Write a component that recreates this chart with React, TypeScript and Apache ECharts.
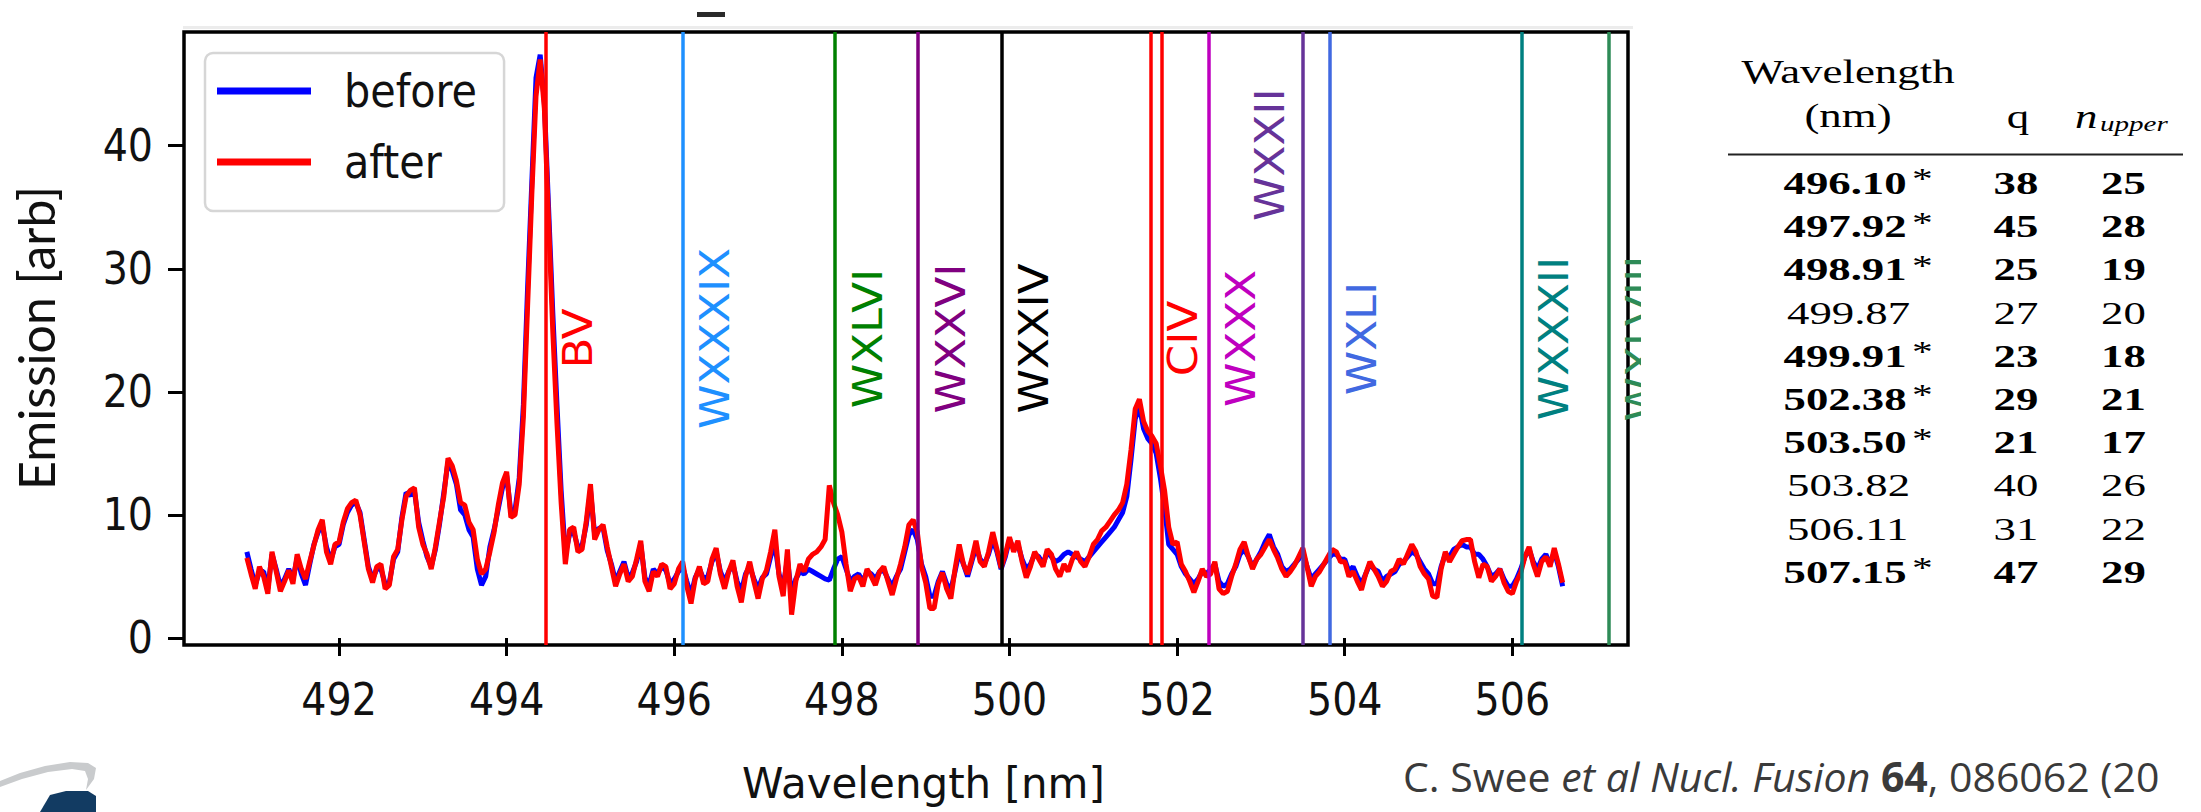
import React, { useEffect, useRef } from "react";
import * as echarts from "echarts";

const WL_START = 490.9;
const WL_STEP = 0.05;

const AFTER = [
  6.5, 5.2, 4.0, 5.8, 5.0, 3.6, 7.0, 5.4, 3.8, 4.6, 5.5, 4.4, 6.8, 5.6, 4.8, 6.2, 7.5, 8.8, 9.6, 7.0,
  6.0, 7.6, 7.8, 9.4, 10.5, 11.0, 11.2, 10.0, 7.8, 5.6, 4.5, 5.8, 6.0, 4.0, 4.3, 6.6, 7.2, 9.6, 11.5, 12.0,
  12.2, 9.0, 7.6, 6.8, 5.6, 7.4, 9.5, 11.5, 14.6, 14.0, 12.8, 11.0, 10.8, 9.4, 8.8, 6.4, 5.2, 5.6, 7.0, 8.6,
  10.8, 12.6, 13.5, 9.8, 10.0, 12.5, 18.0, 27.0, 36.0, 44.0, 47.0, 43.0, 34.0, 25.0, 17.5, 11.0, 6.0, 8.8, 9.0, 7.0,
  7.2, 9.5, 12.5, 8.0, 8.8, 9.2, 7.4, 5.8, 4.2, 5.2, 6.0, 4.6, 5.0, 6.4, 7.9, 4.6, 3.8, 5.4, 5.0, 6.0,
  5.8, 4.0, 4.4, 5.6, 6.2, 4.2, 2.8, 4.8, 5.8, 4.4, 4.6, 6.4, 7.3, 5.2, 4.0, 5.4, 6.3, 4.2, 2.9, 5.0,
  6.2, 4.6, 3.2, 4.8, 5.5, 7.0, 8.8, 5.0, 3.4, 7.2, 1.9, 4.6, 6.0, 5.4, 6.4, 6.8, 7.0, 7.4, 8.0, 12.4,
  11.0, 10.0, 8.6, 6.0, 3.8, 4.8, 5.0, 4.2, 5.6, 5.0, 4.3, 5.4, 5.8, 4.6, 3.5, 4.8, 6.0, 7.4, 9.2, 9.6,
  8.6, 5.8, 4.5, 2.4, 2.4, 4.4, 5.3, 4.0, 3.2, 5.6, 7.6, 6.0, 5.2, 6.4, 7.9, 6.2, 5.8, 7.0, 8.6, 7.2,
  5.7, 6.8, 8.2, 7.0, 7.9, 6.2, 4.9, 5.8, 7.0, 6.4, 5.8, 7.2, 6.8, 5.6, 5.0, 6.0, 5.4, 6.4, 7.0, 6.2,
  5.8, 6.6, 7.6, 8.0, 8.7, 9.0, 9.5, 10.0, 10.4, 11.0, 12.5, 15.3, 18.6, 19.4, 17.6, 16.8, 16.4, 15.8, 14.0, 12.0,
  9.0, 7.6, 7.8, 6.0, 5.4, 4.6, 3.7, 4.6, 5.6, 5.0, 5.2, 6.2, 4.0, 3.6, 3.8, 5.0, 6.0, 7.2, 7.8, 6.6,
  5.6, 6.4, 6.8, 7.4, 8.0, 7.2, 6.5, 5.6, 5.0, 5.4, 5.9, 6.6, 7.3, 5.8, 4.2, 5.0, 5.4, 6.0, 6.6, 7.2,
  7.0, 6.2, 6.2, 5.0, 5.4, 4.6, 3.9, 5.2, 6.2, 5.6, 5.0, 4.2, 4.6, 5.4, 5.6, 6.4, 6.0, 6.8, 7.6, 7.0,
  5.8, 5.2, 4.8, 3.4, 3.3, 5.6, 7.0, 6.2, 6.8, 7.4, 7.9, 8.0, 8.0, 6.2, 4.9, 6.0, 5.8, 4.6, 5.0, 5.6,
  4.5, 3.8, 3.6, 4.6, 5.3, 6.6, 7.4, 6.0, 5.0, 6.2, 6.6, 5.8, 7.3, 6.0, 4.5,
];

const BEFORE = [
  7.0, 5.6, 4.3, 5.4, 5.4, 4.0, 6.8, 5.6, 4.2, 4.8, 5.6, 4.8, 6.5, 5.2, 4.3, 6.0, 7.6, 8.6, 9.2, 7.4,
  6.3, 7.4, 7.6, 9.2, 10.2, 10.8, 11.0, 10.2, 8.0, 5.8, 4.8, 5.6, 5.6, 4.4, 4.5, 6.4, 7.0, 9.8, 11.8, 11.6,
  11.9, 9.4, 7.9, 6.6, 5.8, 7.2, 9.3, 11.8, 14.3, 13.6, 12.5, 10.4, 10.0, 8.8, 8.2, 5.6, 4.3, 5.0, 7.4, 8.8,
  10.5, 12.2, 13.2, 10.2, 10.4, 13.0, 19.0, 28.5, 37.0, 45.5, 47.4, 43.5, 35.0, 26.5, 19.0, 12.0, 6.8, 8.4, 8.6, 7.4,
  7.5, 9.2, 12.0, 8.4, 8.9, 9.0, 7.1, 6.0, 4.6, 5.4, 6.2, 4.9, 5.3, 6.2, 7.6, 4.9, 4.3, 5.6, 5.2, 5.8,
  5.5, 4.4, 4.8, 5.4, 5.8, 4.6, 3.5, 4.9, 5.6, 4.8, 5.0, 6.2, 7.0, 5.4, 4.6, 5.4, 6.0, 4.6, 3.8, 5.2,
  5.8, 4.8, 4.0, 4.9, 5.2, 6.6, 7.6, 5.2, 4.2, 6.4, 3.5, 4.8, 5.4, 5.2, 5.6, 5.4, 5.2, 5.0, 4.8, 4.7,
  5.6, 6.4, 6.6, 5.6, 4.6, 5.0, 5.2, 4.6, 5.4, 5.2, 4.8, 5.4, 5.5, 4.8, 4.2, 5.0, 5.6, 7.0, 8.4, 8.8,
  8.0, 6.0, 5.0, 3.4, 3.4, 4.6, 5.4, 4.4, 3.9, 5.4, 7.0, 6.0, 5.0, 6.2, 7.4, 6.4, 6.0, 6.8, 8.0, 7.0,
  5.6, 6.6, 8.0, 7.2, 7.6, 6.4, 5.6, 6.0, 6.8, 6.6, 6.0, 7.0, 6.6, 6.2, 6.4, 6.8, 7.0, 6.8, 6.6, 6.4,
  6.2, 6.6, 7.0, 7.4, 7.8, 8.2, 8.6, 9.0, 9.6, 10.2, 11.5, 14.5, 17.8, 18.8, 17.0, 16.2, 15.8, 15.0, 13.0, 10.6,
  7.6, 7.2, 6.8, 5.8, 5.2, 4.8, 4.4, 4.8, 5.4, 5.2, 5.6, 6.0, 4.6, 4.2, 4.4, 5.2, 5.8, 6.8, 7.2, 6.6,
  5.8, 6.4, 7.0, 7.8, 8.4, 7.4, 6.8, 5.8, 5.4, 5.6, 6.0, 6.4, 7.0, 5.8, 4.8, 5.2, 5.6, 6.0, 6.4, 6.8,
  6.8, 6.4, 6.4, 5.4, 5.8, 5.0, 4.4, 5.2, 6.0, 5.6, 5.4, 4.6, 5.0, 5.2, 5.4, 6.0, 6.2, 6.6, 7.0, 6.8,
  6.2, 5.6, 5.2, 4.4, 4.4, 5.8, 6.8, 6.6, 7.2, 7.4, 7.6, 7.4, 7.4, 6.8, 6.8, 6.4, 5.8, 5.0, 5.2, 5.6,
  4.8, 4.2, 4.2, 4.8, 5.6, 6.6, 7.2, 6.2, 5.6, 6.4, 6.8, 6.0, 7.0, 5.8, 4.2,
];

const X_TICKS = [492, 494, 496, 498, 500, 502, 504, 506];
const Y_TICKS = [0, 10, 20, 30, 40];
const X_MIN = 490.15;
const X_MAX = 507.38;
const Y_MIN = -0.57;
const Y_MAX = 49.24;

// ---- marked lines ----
const LINE_WL = [494.47, 496.1, 497.92, 498.91, 499.91, 501.68, 501.82, 502.38, 503.5, 503.82, 506.11, 507.15];
const LINE_COLORS = ["#ff0000", "#1e90ff", "#008000", "#800080", "#000000", "#ff0000", "#ff0000", "#bf00bf", "#663399", "#4169e1", "#008080", "#2e8b57"];
const LINE_LABELS = ["BV", "WXXXIX", "WXLVI", "WXXVI", "WXXIV", "CIV", "", "WXXX", "WXXII", "WXLI", "WXXXII", "WXLVIII"];

// ---- table ----
const TABLE_WL = ["496.10", "497.92", "498.91", "499.87", "499.91", "502.38", "503.50", "503.82", "506.11", "507.15"];
const TABLE_Q = ["38", "45", "25", "27", "23", "29", "21", "40", "31", "47"];
const TABLE_N = ["25", "28", "19", "20", "18", "21", "17", "26", "22", "29"];
const TABLE_BOLD = [true, true, true, false, true, true, true, false, false, true];

const TICK_FONT = "'DejaVu Sans Condensed', 'DejaVu Sans', sans-serif";
const SERIF = "'Liberation Serif', 'DejaVu Serif', serif";

export default function App() {
  const ref = useRef<HTMLDivElement>(null);

  useEffect(() => {
    const el = ref.current;
    if (!el) return;
    const chart = echarts.init(el, null, { renderer: "svg" });

    const wl = (i: number) => Math.round((WL_START + i * WL_STEP) * 100) / 100;

    const option: any = {
      animation: false,
      backgroundColor: "#ffffff",
      grid: {
        left: 184,
        top: 32,
        width: 1444,
        height: 613,
        show: true,
        borderColor: "#000",
        borderWidth: 3.5,
        backgroundColor: "transparent",
      },
      legend: {
        data: ["before", "after"],
        orient: "vertical",
        left: 205,
        top: 53,
        padding: [15, 27, 26, 12],
        itemGap: 25,
        itemWidth: 94,
        itemHeight: 7,
        icon: "rect",
        backgroundColor: "#ffffff",
        borderColor: "#d6d6d6",
        borderWidth: 2.5,
        borderRadius: 8,
        textStyle: {
          fontSize: 46,
          fontFamily: TICK_FONT,
          color: "#111",
          padding: [0, 0, 0, 28],
        },
      },
      xAxis: {
        type: "value",
        min: X_MIN,
        max: X_MAX,
        axisLine: { show: false },
        splitLine: { show: false },
        axisTick: {
          show: true,
          customValues: X_TICKS,
          length: 18,
          inside: false,
          lineStyle: { color: "#000", width: 3 },
        },
        axisLabel: {
          customValues: X_TICKS,
          margin: 32,
          fontSize: 44,
          fontFamily: TICK_FONT,
          color: "#111",
        },
      },
      yAxis: {
        type: "value",
        min: Y_MIN,
        max: Y_MAX,
        axisLine: { show: false },
        splitLine: { show: false },
        axisTick: {
          show: true,
          customValues: Y_TICKS,
          length: 16,
          inside: false,
          lineStyle: { color: "#000", width: 3 },
        },
        axisLabel: {
          customValues: Y_TICKS,
          margin: 31,
          fontSize: 44,
          fontFamily: TICK_FONT,
          color: "#111",
        },
      },
      series: [
        {
          name: "before",
          type: "line",
          data: BEFORE.map((v, i) => [wl(i), v]),
          symbol: "none",
          showSymbol: false,
          lineStyle: { color: "#0000ff", width: 5 },
          itemStyle: { color: "#0000ff" },
          z: 2,
        },
        {
          name: "after",
          type: "line",
          data: AFTER.map((v, i) => [wl(i), v]),
          symbol: "none",
          showSymbol: false,
          lineStyle: { color: "#ff0000", width: 5 },
          itemStyle: { color: "#ff0000" },
          z: 3,
        },
        {
          name: "lines",
          type: "line",
          data: [],
          z: 4,
          markLine: {
            silent: true,
            symbol: ["none", "none"],
            label: { show: false },
            emphasis: { disabled: true },
            data: LINE_WL.map((w, i) => ({
              xAxis: w,
              lineStyle: { color: LINE_COLORS[i], width: 3.5, type: "solid" },
            })),
          },
        },
      ],
    };

    chart.setOption(option);

    const g: any[] = [];
    const yMid = Y_MIN + 0.5 * (Y_MAX - Y_MIN);
    const yHigh = Y_MIN + 0.8 * (Y_MAX - Y_MIN);

    LINE_LABELS.forEach((lab, i) => {
      if (!lab) return;
      const high = lab === "WXXII";
      const p = chart.convertToPixel({ gridIndex: 0 }, [LINE_WL[i], high ? yHigh : yMid]) as number[];
      g.push({
        type: "text",
        x: p[0] + (high ? -53 : 12),
        y: p[1],
        rotation: Math.PI / 2,
        scaleY: 0.9,
        z: 10,
        style: {
          text: lab,
          fill: LINE_COLORS[i],
          font: "45px 'DejaVu Sans'",
          align: "center",
          verticalAlign: "top",
          textAlign: "center",
          textVerticalAlign: "top",
        },
      });
    });

    // clip of the last label at the image edge
    g.push({ type: "rect", z: 20, shape: { x: 1641, y: 230, width: 70, height: 210 }, style: { fill: "#ffffff" } });
    // thin grey band above the frame and small dash
    g.push({ type: "rect", z: 1, shape: { x: 183, y: 26, width: 1450, height: 3 }, style: { fill: "#ececec" } });
    g.push({ type: "rect", z: 1, shape: { x: 697, y: 12, width: 28, height: 5 }, style: { fill: "#2a2a2a" } });

    // axis titles
    g.push({
      type: "text",
      x: 35.5,
      y: 338,
      rotation: Math.PI / 2,
      z: 10,
      style: {
        text: "Emission [arb]",
        fill: "#111",
        font: "50px Lato",
        align: "center",
        verticalAlign: "middle",
        textAlign: "center",
        textVerticalAlign: "middle",
      },
    });
    g.push({
      type: "text",
      x: 923.5,
      y: 783.5,
      z: 10,
      style: {
        text: "Wavelength [nm]",
        fill: "#111",
        font: "42px 'DejaVu Sans'",
        align: "center",
        verticalAlign: "middle",
        textAlign: "center",
        textVerticalAlign: "middle",
      },
    });

    // citation
    g.push({
      type: "text",
      x: 1403,
      y: 776,
      z: 10,
      style: {
        text: "{a|C. Swee }{b|et al Nucl. Fusion }{c|64}{a|, 086062 (20}",
        align: "left",
        verticalAlign: "middle",
        textAlign: "left",
        textVerticalAlign: "middle",
        rich: {
          a: { fill: "#3a3a3a", fontSize: 41, fontFamily: "'Open Sans'" },
          b: { fill: "#3a3a3a", fontSize: 41, fontFamily: "'Open Sans'", fontStyle: "italic" },
          c: { fill: "#3a3a3a", fontSize: 41, fontFamily: "'Open Sans'", fontWeight: "bold" },
        },
      },
    });

    // logo fragment bottom-left
    g.push({
      type: "polygon",
      z: 5,
      shape: {
        points: [[0, 781], [20, 773], [45, 766], [70, 762], [88, 763], [96, 768], [94, 779], [86, 790], [88, 779], [85, 771], [72, 769], [48, 772], [22, 779], [0, 787]],
      },
      style: { fill: "#c9cbcd" },
    });
    g.push({
      type: "polygon",
      z: 5,
      shape: { points: [[40, 812], [50, 795], [66, 791], [88, 791], [96, 796], [96, 812]] },
      style: { fill: "#123b62" },
    });

    // table
    const txt = (text: string, x: number, y: number, font: string, align: string, sx: number) => ({
      type: "text",
      x,
      y,
      scaleX: sx,
      z: 10,
      style: { text, fill: "#000", font, align, verticalAlign: "middle", textAlign: align, textVerticalAlign: "middle" },
    });
    g.push(txt("Wavelength", 1848, 71.8, `34px ${SERIF}`, "center", 1.32));
    g.push(txt("(nm)", 1848, 115.5, `34px ${SERIF}`, "center", 1.32));
    g.push(txt("q", 2018, 116.5, `34px ${SERIF}`, "center", 1.32));
    g.push(txt("n", 2075, 116.5, `italic 34px ${SERIF}`, "left", 1.32));
    g.push(txt("upper", 2100, 123.6, `italic 22px ${SERIF}`, "left", 1.32));
    g.push({ type: "line", z: 10, shape: { x1: 1728, y1: 154.5, x2: 2183, y2: 154.5 }, style: { stroke: "#222", lineWidth: 2 } });

    TABLE_WL.forEach((w, i) => {
      const yc = 183 + i * 43.2;
      const bold = TABLE_BOLD[i];
      const f = bold ? `bold 32px ${SERIF}` : `32px ${SERIF}`;
      g.push(txt(w, bold ? 1783.5 : 1787, yc, f, "left", 1.4));
      if (bold) g.push(txt("*", 1912, yc - 4.6, `30px ${SERIF}`, "left", 1.38));
      g.push(txt(TABLE_Q[i], 2016, yc, f, "center", 1.4));
      g.push(txt(TABLE_N[i], 2123.5, yc, f, "center", 1.4));
    });

    chart.setOption({ graphic: g });

    return () => {
      chart.dispose();
    };
  }, []);

  return (
    <div
      ref={ref}
      style={{ position: "absolute", left: 0, top: 0, width: 2201, height: 812 }}
    />
  );
}
